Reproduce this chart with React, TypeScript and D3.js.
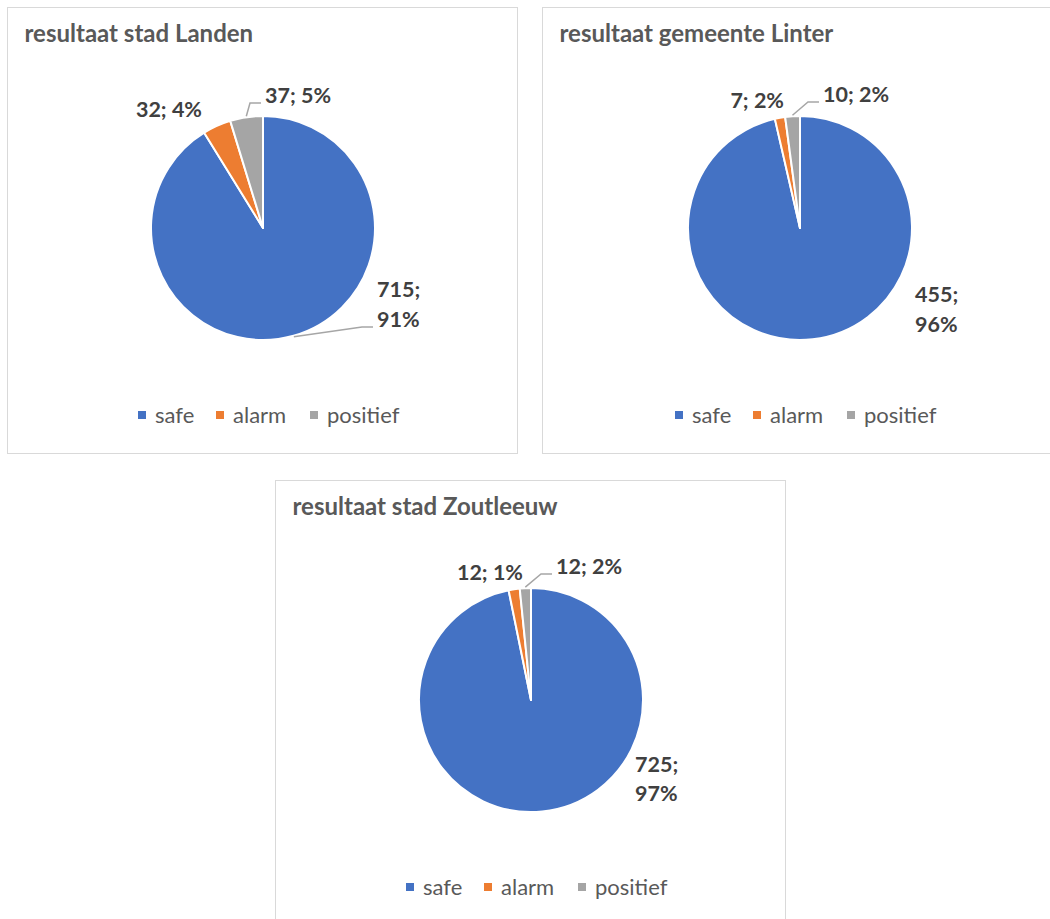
import React from "react";
import * as d3 from "d3";

const categories = ["safe", "alarm", "positief"];
const colors = ["#4472C4", "#ED7D31", "#A5A5A5"];

const titles = ["resultaat stad Landen", "resultaat gemeente Linter", "resultaat stad Zoutleeuw"];
const landenValues = [715, 32, 37];
const linterValues = [455, 7, 10];
const zoutleeuwValues = [725, 12, 12];
const landenPct = ["91%", "4%", "5%"];
const linterPct = ["96%", "2%", "2%"];
const zoutleeuwPct = ["97%", "1%", "2%"];

// layout of each panel: box, pie centre and where Excel put the labels
const panels = [
  {
    box: { x: 7.5, y: 7.5, w: 510, h: 446 },
    cx: 263, cy: 228, r: 112,
    labels: [
      { dx: 114, dy: 69, anchor: "start", split: true, leader: true },
      { dx: -61, dy: -111, anchor: "end", split: false, leader: false },
      { dx: 2, dy: -125, anchor: "start", split: false, leader: true },
    ],
  },
  {
    box: { x: 542.5, y: 7.5, w: 520, h: 446 },
    cx: 800, cy: 228, r: 112,
    labels: [
      { dx: 115, dy: 74, anchor: "start", split: true, leader: false },
      { dx: -16, dy: -120, anchor: "end", split: false, leader: false },
      { dx: 23, dy: -126, anchor: "start", split: false, leader: true },
    ],
  },
  {
    box: { x: 275.5, y: 480.5, w: 510, h: 460 },
    cx: 531, cy: 700, r: 112,
    labels: [
      { dx: 104, dy: 72, anchor: "start", split: true, leader: false },
      { dx: -8, dy: -120, anchor: "end", split: false, leader: false },
      { dx: 25, dy: -126, anchor: "start", split: false, leader: true },
    ],
  },
];

const seriesValues = [landenValues, linterValues, zoutleeuwValues];
const seriesPct = [landenPct, linterPct, zoutleeuwPct];
const legendOffsets = [0, 78, 172];
const font = "Lato, 'Open Sans', sans-serif";

function PiePanel({ idx }: { idx: number }) {
  const p = panels[idx];
  const values = seriesValues[idx];
  const pct = seriesPct[idx];
  const pie = d3.pie<number>().sort(null).startAngle(0).endAngle(2 * Math.PI);
  const arcs = pie(values);
  const arc = d3.arc<d3.PieArcDatum<number>>().innerRadius(0).outerRadius(p.r);
  const lineH = idx === 2 ? 29 : 30;

  return (
    <g>
      <rect x={p.box.x} y={p.box.y} width={p.box.w} height={p.box.h} fill="#fff" stroke="#D9D9D9" strokeWidth={1} />
      <text x={p.box.x + 17} y={p.box.y + 34} fontFamily={font} fontWeight={700} fontSize={24} fill="#595959">
        {titles[idx]}
      </text>
      <g transform={`translate(${p.cx},${p.cy})`}>
        {arcs.map((a, i) => (
          <path key={i} d={arc(a) || ""} fill={colors[i]} stroke="#fff" strokeWidth={2} strokeLinejoin="round" />
        ))}
        {arcs.map((a, i) => {
          const l = p.labels[i];
          const text = `${values[i]}; ${pct[i]}`;
          const lastY = l.split ? l.dy + lineH : l.dy;
          let leader = null;
          if (l.leader) {
            const mid = (a.startAngle + a.endAngle) / 2;
            const sx = Math.sin(mid) * (p.r + 1);
            const sy = -Math.cos(mid) * (p.r + 1);
            const pts: [number, number][] = [
              [sx, sy],
              [l.dx - 15, lastY],
              [l.dx - 4, lastY],
            ];
            leader = <path d={d3.line()(pts) || ""} fill="none" stroke="#A6A6A6" strokeWidth={1.5} />;
          }
          return (
            <g key={"l" + i}>
              {leader}
              <text x={l.dx} y={l.dy} textAnchor={l.anchor} fontFamily={font} fontWeight={700} fontSize={21.5} fill="#404040">
                {l.split ? (
                  <>
                    <tspan x={l.dx} y={l.dy}>{`${values[i]};`}</tspan>
                    <tspan x={l.dx} y={l.dy + lineH}>{pct[i]}</tspan>
                  </>
                ) : (
                  text
                )}
              </text>
            </g>
          );
        })}
        <g transform="translate(-125,187)">
          {categories.map((c, i) => (
            <g key={c} transform={`translate(${legendOffsets[i]},0)`}>
              <rect x={0} y={-4} width={8} height={8} fill={colors[i]} />
              <text x={17} y={7.5} fontFamily={font} fontSize={22} fill="#595959">
                {c}
              </text>
            </g>
          ))}
        </g>
      </g>
    </g>
  );
}

export default function App() {
  return (
    <svg width={1050} height={919} style={{ position: "absolute", left: 0, top: 0, background: "#fff" }}>
      <rect x={0} y={0} width={1050} height={919} fill="#fff" />
      {panels.map((_, i) => (
        <PiePanel key={i} idx={i} />
      ))}
    </svg>
  );
}
